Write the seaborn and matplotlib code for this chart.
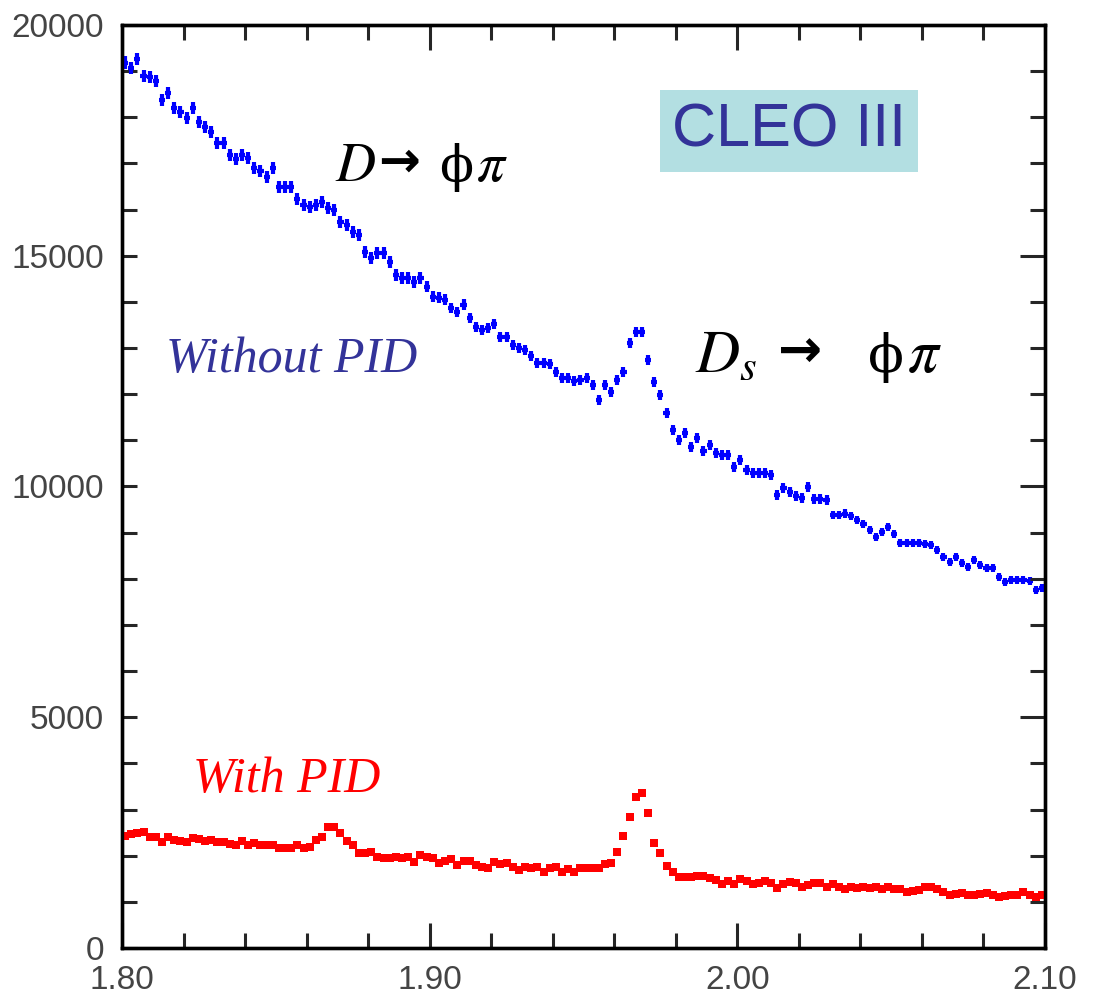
import numpy as np
import pandas as pd
import matplotlib
matplotlib.use("Agg")
import matplotlib.pyplot as plt
import seaborn as sns
from matplotlib.ticker import MultipleLocator, FixedLocator, FixedFormatter

# ---------------- data ----------------
MASS_LO = 1.80
MASS_HI = 2.10
N_BINS = 150

without_pid = [
    19180, 19070, 19265, 18896, 18875, 18788, 18376, 18528, 18203, 18116,
    17986, 18203, 17899, 17791, 17683, 17444, 17444, 17184, 17098, 17184,
    17119, 16903, 16837, 16708, 16903, 16491, 16491, 16491, 16231, 16101,
    16057, 16101, 16166, 16036, 15992, 15732, 15667, 15516, 15451, 15082,
    14952, 15061, 15061, 14866, 14584, 14519, 14519, 14432, 14519, 14324,
    14107, 14086, 14042, 13869, 13782, 13934, 13652, 13457, 13392, 13435,
    13522, 13240, 13240, 13067, 13002, 12959, 12829, 12677, 12677, 12655,
    12482, 12352, 12352, 12287, 12309, 12352, 12200, 11875, 12200, 12049,
    12309, 12482, 13110, 13349, 13349, 12742, 12265, 11984, 11593, 11225,
    11008, 11160, 10857, 11052, 10770, 10900, 10727, 10683, 10683, 10423,
    10575, 10358, 10293, 10293, 10293, 10250, 9817, 9968, 9882, 9795,
    9752, 9990, 9730, 9730, 9708, 9383, 9383, 9405, 9361, 9275,
    9188, 9058, 8906, 9015, 9123, 8971, 8776, 8776, 8776, 8776,
    8755, 8733, 8625, 8473, 8365, 8473, 8343, 8256, 8408, 8300,
    8235, 8235, 8040, 7931, 7975, 7975, 7975, 7953, 7758, 7801,
]

with_pid = [
    2427, 2470, 2485, 2506, 2413, 2413, 2304, 2398, 2340, 2326,
    2304, 2391, 2355, 2326, 2340, 2304, 2304, 2254, 2232, 2326,
    2225, 2268, 2225, 2225, 2225, 2174, 2160, 2160, 2232, 2160,
    2196, 2340, 2413, 2629, 2629, 2485, 2326, 2232, 2051, 2051,
    2088, 1979, 1943, 1943, 1965, 1943, 1965, 1871, 2015, 1965,
    1943, 1835, 1893, 1921, 1799, 1893, 1893, 1799, 1763, 1726,
    1871, 1820, 1849, 1763, 1690, 1763, 1726, 1763, 1654, 1726,
    1763, 1654, 1705, 1654, 1726, 1741, 1726, 1741, 1813, 1835,
    2088, 2434, 2846, 3279, 3352, 2933, 2283, 2051, 1777, 1654,
    1546, 1546, 1546, 1560, 1560, 1524, 1474, 1387, 1459, 1387,
    1495, 1459, 1387, 1401, 1459, 1401, 1293, 1387, 1437, 1401,
    1329, 1365, 1401, 1401, 1329, 1387, 1329, 1271, 1329, 1293,
    1329, 1293, 1315, 1279, 1329, 1279, 1279, 1221, 1242, 1257,
    1329, 1329, 1279, 1221, 1149, 1170, 1199, 1149, 1149, 1170,
    1199, 1149, 1112, 1127, 1149, 1149, 1221, 1149, 1112, 1149,
]

x_tick_values = [1.80, 1.90, 2.00, 2.10]
x_tick_labels = ["1.80", "1.90", "2.00", "2.10"]
y_tick_values = [0, 5000, 10000, 15000, 20000]
y_tick_labels = ["0", "5000", "10000", "15000", "20000"]

# ---------------- build table ----------------
edges = np.linspace(MASS_LO, MASS_HI, N_BINS + 1)
centers = 0.5 * (edges[:-1] + edges[1:])
half_bin = 0.5 * (edges[1] - edges[0])
df = pd.DataFrame({
    "mass": centers,
    "without": np.array(without_pid, dtype=float),
    "with": np.array(with_pid, dtype=float),
})

# ---------------- style ----------------
sns.set_theme(style="ticks")
plt.rcParams["font.family"] = ["Liberation Sans", "DejaVu Sans"]
plt.rcParams["mathtext.fontset"] = "stix"

BLUE = "#0000ff"
RED = "#ff0000"
NAVY = "#333399"
TICK_GREY = "#444444"

fig = plt.figure(figsize=(10.93, 10.01), dpi=100)
fig.patch.set_facecolor("white")
ax = fig.add_axes([122 / 1093, 53 / 1001, 923 / 1093, 923 / 1001])
ax.set_facecolor("white")

# error-bar crosses
ax.errorbar(df["mass"], df["without"], xerr=half_bin, yerr=np.sqrt(df["without"]),
            fmt="none", ecolor=BLUE, elinewidth=3.0, capsize=0, zorder=3)
ax.errorbar(df["mass"], df["with"], xerr=half_bin, yerr=np.sqrt(df["with"]),
            fmt="none", ecolor=RED, elinewidth=4.4, capsize=0, zorder=3)
sns.scatterplot(data=df, x="mass", y="without", marker="s", s=5, color=BLUE,
                linewidth=0, ax=ax, zorder=4, legend=False)
sns.scatterplot(data=df, x="mass", y="with", marker="s", s=26, color=RED,
                linewidth=0, ax=ax, zorder=4, legend=False)

ax.set_xlim(MASS_LO, MASS_HI)
ax.set_ylim(0, 20000)
ax.set_xlabel("")
ax.set_ylabel("")

# ticks
ax.xaxis.set_major_locator(FixedLocator(x_tick_values))
ax.xaxis.set_major_formatter(FixedFormatter(x_tick_labels))
ax.xaxis.set_minor_locator(MultipleLocator(0.02))
ax.yaxis.set_major_locator(FixedLocator(y_tick_values))
ax.yaxis.set_major_formatter(FixedFormatter(y_tick_labels))
ax.yaxis.set_minor_locator(MultipleLocator(1000))

ax.tick_params(axis="x", which="major", direction="in", top=True, bottom=True,
               length=18, width=2.2, labelsize=24, labelcolor=TICK_GREY, pad=12)
ax.tick_params(axis="x", which="minor", direction="in", top=True, bottom=True,
               length=11, width=2.2)
ax.tick_params(axis="y", which="both", direction="in", left=True, right=False,
               length=11, width=2.2, labelsize=24, labelcolor=TICK_GREY, pad=13)
for sp in ax.spines.values():
    sp.set_visible(True)
    sp.set_linewidth(2.4)
    sp.set_color("black")

ax2 = ax.twinx()
ax2.set_ylim(ax.get_ylim())
ax2.yaxis.set_major_locator(FixedLocator(y_tick_values))
ax2.yaxis.set_minor_locator(MultipleLocator(1000))
ax2.tick_params(axis="y", which="major", direction="in", length=18, width=2.2,
                labelright=False, right=True)
ax2.tick_params(axis="y", which="minor", direction="in", length=11, width=2.2,
                right=True)
for sp in ax2.spines.values():
    sp.set_linewidth(2.4)
    sp.set_color("black")

# annotations
ax.text(0.7226, 0.885, "CLEO III", transform=ax.transAxes, ha="center",
        va="center", fontsize=44, color=NAVY, family=["Liberation Sans", "DejaVu Sans"],
        bbox=dict(boxstyle="square,pad=0.2", facecolor="#b3dfe2", edgecolor="none"),
        zorder=5)

SERIF = ["DejaVu Serif", "Liberation Serif"]
# D -> phi pi
ax.text(0.231, 0.831, r"$D$", transform=ax.transAxes, ha="left", va="baseline",
        fontsize=40, color="black", zorder=5)
ax.text(0.278, 0.836, "\u2192", transform=ax.transAxes, ha="left", va="baseline",
        fontsize=36, fontweight="bold", color="black", family=["DejaVu Sans"], zorder=5)
ax.text(0.344, 0.831, "\u03d5", transform=ax.transAxes, ha="left", va="baseline",
        fontsize=36, color="black", family=SERIF, zorder=5)
ax.text(0.384, 0.831, r"$\pi$", transform=ax.transAxes, ha="left", va="baseline",
        fontsize=40, color="black", zorder=5)

# Ds -> phi pi
ax.text(0.621, 0.624, r"$D_s$", transform=ax.transAxes, ha="left", va="baseline",
        fontsize=44, color="black", zorder=5)
ax.text(0.711, 0.630, "\u2192", transform=ax.transAxes, ha="left", va="baseline",
        fontsize=38, fontweight="bold", color="black", family=["DejaVu Sans"], zorder=5)
ax.text(0.808, 0.624, "\u03d5", transform=ax.transAxes, ha="left", va="baseline",
        fontsize=38, color="black", family=SERIF, zorder=5)
ax.text(0.850, 0.624, r"$\pi$", transform=ax.transAxes, ha="left", va="baseline",
        fontsize=44, color="black", zorder=5)

ax.text(0.184, 0.624, "Without PID", transform=ax.transAxes, ha="center",
        va="baseline", fontsize=36, style="italic", color=NAVY,
        family=["Liberation Serif", "DejaVu Serif"], zorder=5)
ax.text(0.178, 0.169, "With PID", transform=ax.transAxes, ha="center",
        va="baseline", fontsize=36, style="italic", color=RED,
        family=["Liberation Serif", "DejaVu Serif"], zorder=5)

fig.savefig("out.png", dpi=100, facecolor="white")
